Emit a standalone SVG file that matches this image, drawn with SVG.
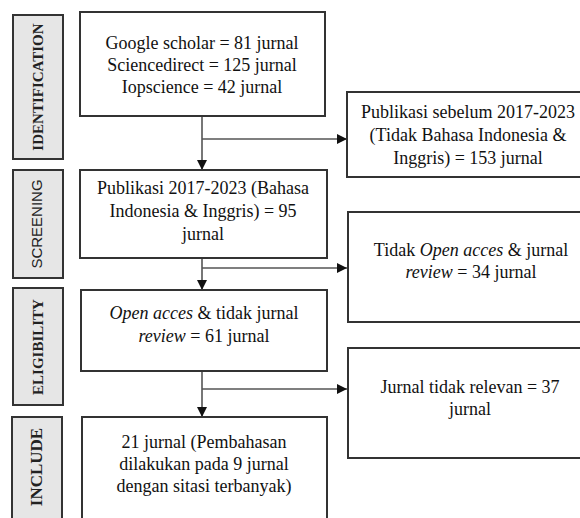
<svg xmlns="http://www.w3.org/2000/svg" width="580" height="518" viewBox="0 0 580 518">
<style>
.lbl{fill:#e6e6e6;stroke:#333;stroke-width:2}
.box{fill:#fff;stroke:#333;stroke-width:2}
.t{font-family:"Liberation Serif","Times New Roman",serif;font-size:18px;fill:#111;text-anchor:middle}
.lt{font-family:"Liberation Serif","Times New Roman",serif;font-size:15px;font-weight:bold;fill:#222;text-anchor:middle}
.ls{font-family:"Liberation Sans",Arial,sans-serif;font-size:15px;fill:#222;text-anchor:middle}
.c{stroke:#555;stroke-width:1.6;fill:none}
</style>
<defs>
<marker id="ah" viewBox="0 0 10 10" refX="10" refY="5" markerWidth="10" markerHeight="10" markerUnits="userSpaceOnUse" orient="auto">
<path d="M0,0 L10,5 L0,10 z" fill="#111"/>
</marker>
</defs>
<rect width="580" height="518" fill="#fff"/>
<g id="label-identification"><rect class="lbl" x="13" y="15" width="50" height="144"/><text class="lt" transform="translate(43,87) rotate(-90)">IDENTIFICATION</text></g>
<g id="label-screening"><rect class="lbl" x="13" y="170" width="50" height="108"/><text class="ls" transform="translate(42,224) rotate(-90)">SCREENING</text></g>
<g id="label-eligibility"><rect class="lbl" x="13" y="288" width="50" height="117"/><text class="lt" transform="translate(43,347) rotate(-90)">ELIGIBILITY</text></g>
<g id="label-include"><rect class="lbl" x="12" y="417" width="50" height="110"/><text class="lt" style="font-size:17px" transform="translate(42,467) rotate(-90)">INCLUDE</text></g>
<g id="connectors">
<line class="c" x1="202" y1="116" x2="202" y2="170" marker-end="url(#ah)"/>
<line class="c" x1="202" y1="139" x2="347" y2="139" marker-end="url(#ah)"/>
<line class="c" x1="202" y1="258" x2="202" y2="290" marker-end="url(#ah)"/>
<line class="c" x1="202" y1="268" x2="347" y2="268" marker-end="url(#ah)"/>
<line class="c" x1="202" y1="371" x2="202" y2="417" marker-end="url(#ah)"/>
<line class="c" x1="202" y1="389" x2="347" y2="389" marker-end="url(#ah)"/>
</g>
<g id="box-identification"><rect class="box" x="80" y="12" width="245" height="104"/>
<text class="t" x="202" y="49">Google scholar = 81 jurnal</text>
<text class="t" x="202" y="71">Sciencedirect = 125 jurnal</text>
<text class="t" x="202" y="93">Iopscience = 42 jurnal</text></g>
<g id="box-screening"><rect class="box" x="80" y="170" width="247" height="88"/>
<text class="t" x="203" y="194">Publikasi 2017-2023 (Bahasa</text>
<text class="t" x="203" y="217">Indonesia &amp; Inggris) = 95</text>
<text class="t" x="203" y="240">jurnal</text></g>
<g id="box-eligibility"><rect class="box" x="81" y="290" width="246" height="81"/>
<text class="t" x="204" y="319"><tspan font-style="italic">Open acces</tspan> &amp; tidak jurnal</text>
<text class="t" x="204" y="342"><tspan font-style="italic">review</tspan> = 61 jurnal</text></g>
<g id="box-include"><rect class="box" x="82" y="417" width="245" height="110"/>
<text class="t" x="204" y="448">21 jurnal  (Pembahasan</text>
<text class="t" x="204" y="470">dilakukan pada 9 jurnal</text>
<text class="t" x="204" y="492">dengan sitasi terbanyak)</text></g>
<g id="box-excluded-1"><rect class="box" x="347" y="92" width="240" height="85"/>
<text class="t" x="468" y="118">Publikasi sebelum 2017-2023</text>
<text class="t" x="468" y="141">(Tidak Bahasa Indonesia &amp;</text>
<text class="t" x="468" y="164">Inggris) = 153 jurnal</text></g>
<g id="box-excluded-2"><rect class="box" x="348" y="212" width="240" height="110"/>
<text class="t" x="471" y="256">Tidak <tspan font-style="italic">Open acces</tspan> &amp; jurnal</text>
<text class="t" x="471" y="278"><tspan font-style="italic">review</tspan> = 34 jurnal</text></g>
<g id="box-excluded-3"><rect class="box" x="348" y="348" width="240" height="110"/>
<text class="t" x="470" y="393">Jurnal tidak relevan = 37</text>
<text class="t" x="470" y="415">jurnal</text></g>
</svg>
